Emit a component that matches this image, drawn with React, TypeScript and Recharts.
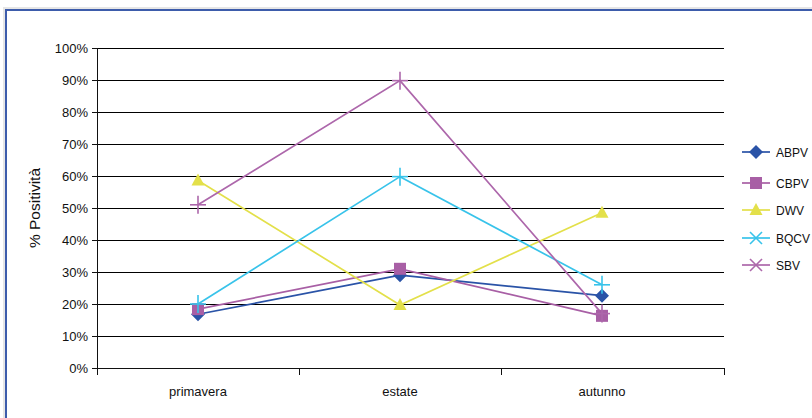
import React from 'react';
import { LineChart, Line, XAxis, YAxis, CartesianGrid, Label } from 'recharts';

const seasons = ['primavera', 'estate', 'autunno'];
const abpv = [0.168, 0.29, 0.226];
const cbpv = [0.184, 0.31, 0.163];
const dwv = [0.586, 0.197, 0.485];
const bqcv = [0.2, 0.598, 0.26];
const sbv = [0.51, 0.898, 0.17];
const yTicks = [0, 0.1, 0.2, 0.3, 0.4, 0.5, 0.6, 0.7, 0.8, 0.9, 1];

const FONT = '"Liberation Sans", Arial, sans-serif';

type Shape = 'diamond' | 'square' | 'triangle' | 'plus' | 'cross';

const series: { key: string; name: string; color: string; shape: Shape }[] = [
  { key: 'abpv', name: 'ABPV', color: '#2a53a7', shape: 'diamond' },
  { key: 'cbpv', name: 'CBPV', color: '#a85fa5', shape: 'square' },
  { key: 'dwv', name: 'DWV', color: '#e3e04a', shape: 'triangle' },
  { key: 'bqcv', name: 'BQCV', color: '#38c3ea', shape: 'plus' },
  { key: 'sbv', name: 'SBV', color: '#ad67ab', shape: 'plus' },
];

const data = seasons.map((s, i) => ({
  season: s,
  abpv: abpv[i],
  cbpv: cbpv[i],
  dwv: dwv[i],
  bqcv: bqcv[i],
  sbv: sbv[i],
}));

const Marker = ({ cx, cy, shape, color }: { cx: number; cy: number; shape: Shape; color: string }) => {
  if (shape === 'diamond')
    return <polygon points={`${cx},${cy - 7} ${cx + 7},${cy} ${cx},${cy + 7} ${cx - 7},${cy}`} fill={color} />;
  if (shape === 'square') return <rect x={cx - 6} y={cy - 6} width={12} height={12} fill={color} />;
  if (shape === 'triangle')
    return <polygon points={`${cx},${cy - 7} ${cx + 6.5},${cy + 5} ${cx - 6.5},${cy + 5}`} fill={color} />;
  if (shape === 'plus')
    return (
      <g stroke={color} strokeWidth={1.6}>
        <line x1={cx - 8} y1={cy} x2={cx + 8} y2={cy} />
        <line x1={cx} y1={cy - 9} x2={cx} y2={cy + 9} />
      </g>
    );
  return (
    <g stroke={color} strokeWidth={1.6}>
      <line x1={cx - 6} y1={cy - 6} x2={cx + 6} y2={cy + 6} />
      <line x1={cx - 6} y1={cy + 6} x2={cx + 6} y2={cy - 6} />
    </g>
  );
};

// category ticks sit between the categories, like the spreadsheet original
const PAD_LEFT = 101;
const PAD_RIGHT = 122;

const SeasonTick = (props: any) => {
  const { x, y, payload, index, visibleTicksCount } = props;
  return (
    <g>
      <line x1={x - PAD_LEFT} y1={y} x2={x - PAD_LEFT} y2={y + 7} stroke="#111" shapeRendering="crispEdges" />
      {index === visibleTicksCount - 1 && (
        <line x1={x + PAD_RIGHT} y1={y} x2={x + PAD_RIGHT} y2={y + 7} stroke="#111" shapeRendering="crispEdges" />
      )}
      <text x={x} y={y + 28} textAnchor="middle" fontSize={13} fill="#111" fontFamily={FONT}>
        {payload.value}
      </text>
    </g>
  );
};

const legendRows = [152, 183, 210, 238, 265];

export default function App() {
  return (
    <div
      style={{
        position: 'fixed',
        left: 0,
        top: 0,
        width: 812,
        height: 418,
        overflow: 'hidden',
        background: '#fff',
        fontFamily: FONT,
      }}
    >
      <div
        style={{
          position: 'absolute',
          left: 5,
          top: 9,
          width: 900,
          height: 500,
          borderLeft: '2px solid #3d5cab',
          borderTop: '2px solid #3d5cab',
          boxShadow: '-2px -2px 0 #e6e6e6',
        }}
      />
      <div style={{ position: 'absolute', left: 0, top: 0 }}>
        <LineChart width={812} height={418} data={data} margin={{ top: 48, right: 88, bottom: 20, left: 37 }}>
          <CartesianGrid horizontal vertical={false} stroke="#000" strokeWidth={1} shapeRendering="crispEdges" />
          <XAxis
            dataKey="season"
            type="category"
            padding={{ left: PAD_LEFT, right: PAD_RIGHT }}
            axisLine={{ stroke: '#111', shapeRendering: 'crispEdges' }}
            tickLine={false}
            tickSize={0}
            tickMargin={0}
            height={30}
            tick={<SeasonTick />}
            interval={0}
          />
          <YAxis
            domain={[0, 1]}
            ticks={yTicks}
            tickFormatter={(v: number) => `${Math.round(v * 100)}%`}
            width={60}
            axisLine={{ stroke: '#111', shapeRendering: 'crispEdges' }}
            tickLine={{ stroke: '#111', shapeRendering: 'crispEdges' }}
            tickSize={5}
            tickMargin={4}
            tick={{ fill: '#111', fontSize: 13, fontFamily: FONT }}
            interval={0}
          >
            <Label
              content={(p: any) => {
                const vb = p.viewBox;
                return (
                  <text
                    x={vb.x + 3}
                    y={vb.y + vb.height / 2}
                    transform={`rotate(-90, ${vb.x + 3}, ${vb.y + vb.height / 2})`}
                    textAnchor="middle"
                    fontSize={15.5}
                    fill="#111"
                    fontFamily={FONT}
                  >
                    % Positività
                  </text>
                );
              }}
            />
          </YAxis>
          {series.map((s) => (
            <Line
              key={s.key}
              dataKey={s.key}
              name={s.name}
              stroke={s.color}
              strokeWidth={1.7}
              isAnimationActive={false}
              activeDot={false}
              dot={(p: any) => <Marker key={`${s.key}-${p.index}`} cx={p.cx} cy={p.cy} shape={s.shape} color={s.color} />}
            />
          ))}
        </LineChart>
      </div>
      <svg style={{ position: 'absolute', left: 0, top: 0 }} width={812} height={418}>
        {series.map((s, i) => {
          const y = legendRows[i];
          return (
            <g key={s.key}>
              <line x1={742} y1={y} x2={770} y2={y} stroke={s.color} strokeWidth={1.7} />
              <Marker cx={756} cy={y} shape={s.shape === 'plus' ? 'cross' : s.shape} color={s.color} />
              <text x={776} y={y + 4.5} fontSize={12} fill="#111" fontFamily={FONT}>
                {s.name}
              </text>
            </g>
          );
        })}
      </svg>
    </div>
  );
}
